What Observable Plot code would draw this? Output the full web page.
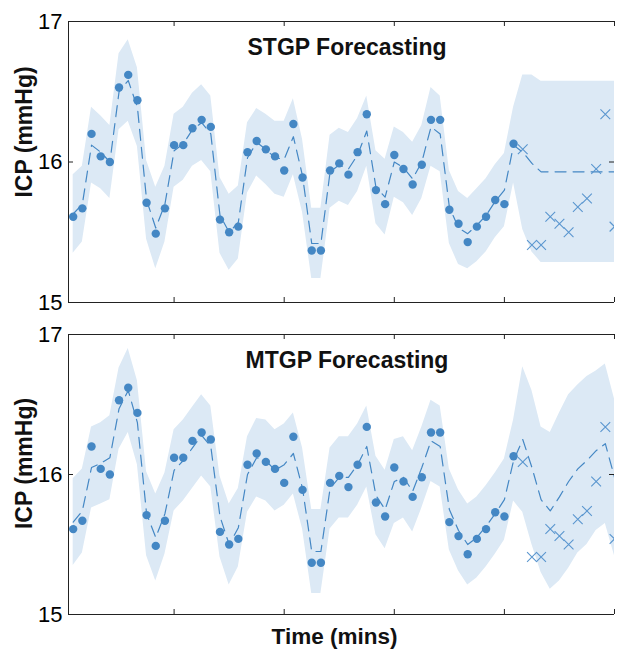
<!DOCTYPE html>
<html><head><meta charset="utf-8">
<script src="https://cdn.jsdelivr.net/npm/d3@7"></script>
<script src="https://cdn.jsdelivr.net/npm/@observablehq/plot@0.6"></script>
<style>
html,body{margin:0;padding:0;background:#fff;}
#chart{width:620px;height:654px;font-family:"Liberation Sans",Arial,Helvetica,sans-serif;}
#chart svg{display:block;}
</style></head><body><div id="chart"></div>
<script>
// ---- data ----
const obsTime = [1,2,3,4,5,6,7,8,9,10,11,12,13,14,15,16,17,18,19,20,21,22,23,24,25,26,27,28,29,30,31,32,33,34,35,36,37,38,39,40,41,42,43,44,45,46,47,48,49];
const obsICP = [15.61,15.67,16.20,16.04,16.00,16.53,16.62,16.44,15.71,15.49,
  15.67,16.12,16.12,16.24,16.30,16.25,15.59,15.50,15.54,16.07,
  16.15,16.09,16.04,15.94,16.27,15.89,15.37,15.37,15.94,15.99,
  15.91,16.07,16.34,15.80,15.70,16.05,15.95,15.84,15.98,16.30,
  16.30,15.66,15.56,15.43,15.54,15.61,15.73,15.70,16.13];
const testTime = [50,51,52,53,54,55,56,57,58,59,60];
const testICP = [16.09,15.41,15.41,15.61,15.56,15.50,15.68,15.74,15.95,16.34,15.54];
const gridTime = [1,2,3,4,5,6,7,8,9,10,11,12,13,14,15,16,17,18,19,20,21,22,23,24,25,26,27,28,29,30,31,32,33,34,35,36,37,38,39,40,41,42,43,44,45,46,47,48,49,50,51,52,53,54,55,56,57,58,59,60];
const stgpMean = [15.63,15.70,16.12,16.07,16.00,16.50,16.58,16.39,15.73,15.53,
  15.70,16.08,16.13,16.23,16.28,16.20,15.62,15.50,15.57,16.03,
  16.14,16.09,16.03,16.02,16.18,15.90,15.42,15.42,15.93,15.98,
  15.95,16.05,16.22,15.82,15.75,16.00,15.96,15.88,16.00,16.25,
  16.20,15.68,15.53,15.49,15.55,15.62,15.72,15.80,16.12,
  16.07,15.99,15.93,15.93,15.93,15.93,15.93,15.93,15.93,15.93,15.93];
const stgpHalf = [0.28,0.27,0.27,0.26,0.26,0.27,0.29,0.28,0.28,0.29,
  0.27,0.26,0.26,0.26,0.27,0.27,0.27,0.27,0.26,0.25,
  0.24,0.25,0.26,0.27,0.27,0.26,0.25,0.25,0.26,0.26,
  0.26,0.26,0.25,0.26,0.27,0.25,0.25,0.26,0.26,0.28,
  0.27,0.26,0.26,0.25,0.26,0.26,0.26,0.26,0.27,
  0.55,0.63,0.645,0.645,0.645,0.645,0.645,0.645,0.645,0.645,0.645];
const mtgpMean = [15.66,15.74,16.05,16.08,16.12,16.47,16.60,16.37,15.72,15.55,
  15.72,16.03,16.10,16.19,16.28,16.20,15.70,15.50,15.62,16.00,
  16.12,16.10,16.03,16.07,16.15,15.90,15.45,15.45,15.90,15.98,
  15.98,16.07,16.20,15.85,15.75,15.95,15.98,15.88,16.05,16.24,
  16.20,15.75,15.60,15.50,15.55,15.63,15.72,15.82,16.10,
  16.25,16.05,15.82,15.74,15.84,15.95,16.04,16.10,16.17,16.22,15.98];
const mtgpHalf = [0.31,0.30,0.29,0.29,0.30,0.29,0.30,0.30,0.30,0.31,
  0.29,0.29,0.29,0.29,0.29,0.29,0.29,0.29,0.28,0.27,
  0.28,0.29,0.29,0.29,0.29,0.29,0.30,0.30,0.29,0.29,
  0.29,0.29,0.29,0.28,0.28,0.30,0.29,0.29,0.29,0.29,
  0.29,0.29,0.29,0.29,0.29,0.29,0.29,0.29,0.29,
  0.52,0.55,0.52,0.56,0.60,0.62,0.60,0.60,0.57,0.57,0.56];
const xTicks = [12,24,36,48,60];
const yTicks = [15,16,17];
const xDomain = [0.49, 60];
const yDomain = [15, 17];

const BAND = "#dce9f5", BLUE = "#4487c4", AXIS = "#222";
const W = 620, ML = 68, MR = 6;

function panel({title, mean, half, height, marginTop, marginBottom, yLabelDy, xLabel}) {
  const innerH = height - marginTop - marginBottom;
  const innerW = W - ML - MR;
  const band = gridTime.map((t, i) => ({t, mean: mean[i], lo: mean[i] - half[i], hi: mean[i] + half[i]}));
  const obs = obsTime.map((t, i) => ({t, v: obsICP[i]}));
  const test = testTime.map((t, i) => ({t, v: testICP[i]}));
  const marks = [
    Plot.areaY(band, {x: "t", y1: "lo", y2: "hi", fill: BAND, clip: true}),
    Plot.lineY(band, {x: "t", y: "mean", stroke: BLUE, strokeWidth: 1.2, strokeDasharray: "11,7", clip: true}),
    Plot.dot(obs, {x: "t", y: "v", r: 4.2, fill: BLUE, clip: true}),
    Plot.dot(test, {x: "t", y: "v", symbol: "times", r: 4.5, stroke: "#5a96cf", strokeWidth: 1.1, clip: true}),
    Plot.ruleY([yDomain[0], yDomain[1]], {stroke: AXIS, strokeWidth: 1}),
    Plot.ruleX([xDomain[0]], {stroke: AXIS, strokeWidth: 1}),
    Plot.tickX(xTicks, {x: d => d, insetTop: innerH - 5, stroke: AXIS}),
    Plot.tickX(xTicks, {x: d => d, insetBottom: innerH - 5, stroke: AXIS}),
    Plot.tickY(yTicks, {y: d => d, insetRight: innerW - 5, stroke: AXIS}),
    Plot.tickY(yTicks, {y: d => d, insetLeft: innerW - 5, stroke: AXIS}),
    Plot.axisY({ticks: yTicks, tickSize: 0, tickPadding: 6, fontSize: 22, label: null, tickFormat: d => String(d)}),
    Plot.text([title], {frameAnchor: "top", dy: 26.5, dx: 5.5, textAnchor: "middle", lineAnchor: "middle", fontWeight: "bold", fontSize: 23, fill: "#111"}),
    Plot.text(["ICP (mmHg)"], {frameAnchor: "left", rotate: -90, dx: -44, dy: yLabelDy, textAnchor: "middle", lineAnchor: "middle", fontWeight: "bold", fontSize: 23, fill: "#111"})
  ];
  if (xLabel) marks.push(Plot.text([xLabel], {frameAnchor: "bottom", dy: 22, dx: -7, textAnchor: "middle", lineAnchor: "middle", fontWeight: "bold", fontSize: 22.5, fill: "#111"}));
  return Plot.plot({
    width: W, height, marginLeft: ML, marginRight: MR, marginTop, marginBottom,
    style: {fontFamily: '"Liberation Sans", Arial, Helvetica, sans-serif', background: "#fff", overflow: "visible"},
    x: {domain: xDomain, axis: null},
    y: {domain: yDomain, axis: null},
    marks
  });
}

const root = document.getElementById("chart");
root.appendChild(panel({title: "STGP Forecasting", mean: stgpMean, half: stgpHalf, height: 310, marginTop: 21, marginBottom: 8, yLabelDy: -30}));
root.appendChild(panel({title: "MTGP Forecasting", mean: mtgpMean, half: mtgpHalf, height: 344, marginTop: 24, marginBottom: 40, yLabelDy: -11, xLabel: "Time (mins)"}));
</script></body></html>
